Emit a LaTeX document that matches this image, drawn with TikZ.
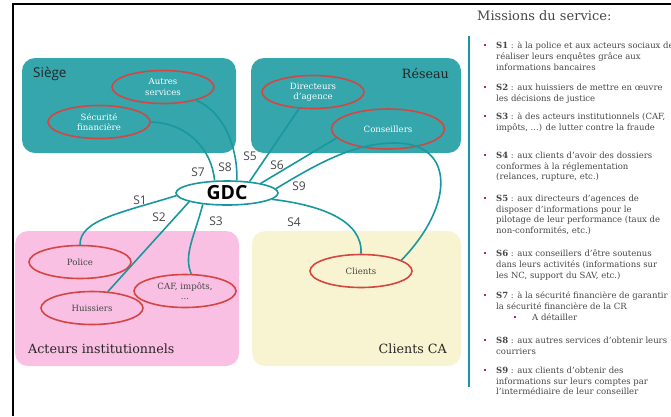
\documentclass[tikz,border=0pt]{standalone}
\usepackage{fontspec}
\setmainfont{DejaVu Serif}
\setsansfont{Open Sans}
\usetikzlibrary{shapes.geometric}

\definecolor{boxteal}{RGB}{52,166,172}
\definecolor{lineteal}{RGB}{24,152,158}
\definecolor{ovalred}{RGB}{212,70,66}
\definecolor{boxpink}{RGB}{250,192,228}
\definecolor{boxcream}{RGB}{248,244,210}
\definecolor{textgray}{RGB}{70,70,70}
\definecolor{bulletpink}{RGB}{192,30,120}

\begin{document}
\begin{tikzpicture}[x=1pt,y=-1pt,
    zone/.style={rounded corners=13pt},
    oval/.style={ellipse,draw=ovalred,line width=1.6pt,minimum width=102pt,minimum height=33pt,
      inner sep=0pt,align=center,font=\fontsize{8.6}{10.2}\selectfont},
    link/.style={draw=lineteal,line width=1.6pt},
    slabel/.style={font=\sffamily\fontsize{12}{14}\selectfont,text=textgray,inner sep=0pt},
    zonelabel/.style={font=\fontsize{12.7}{14}\selectfont,text=black!85,inner sep=0pt},
    mission/.style={anchor=north west,align=left,inner sep=0pt,text=textgray,
      font=\fontsize{8.5}{10.8}\selectfont}]
    \clip (0,0) rectangle (671,416);

    \coordinate (framebl) at (13,416);
    \coordinate (frametl) at (13,4);
    \coordinate (frametr) at (671,4);
    \draw[line width=2pt] (framebl) -- (frametl) -- (frametr);

    \fill[boxteal,zone] (22,58) rectangle (236,153);
    \fill[boxteal,zone] (251,58) rectangle (461,153);
    \fill[boxpink,zone] (15,231) rectangle (239,366);
    \fill[boxcream,zone] (252,231) rectangle (461,366);

    \node[zonelabel,font=\sffamily\fontsize{13.5}{15}\selectfont,anchor=west] (siege) at (33,74) {Siège};
    \node[zonelabel,anchor=east] (reseau) at (449,74) {Réseau};
    \node[zonelabel,anchor=west] (acteurs) at (28,349) {Acteurs institutionnels};
    \node[zonelabel,anchor=east] (clientsca) at (447,349) {Clients CA};

    \node[oval,text=white] (autres) at (163,87) {Autres\\services};
    \node[oval,text=white] (secu) at (99,122) {Sécurité\\financière};
    \node[oval,text=white] (directeurs) at (313,92) {Directeurs\\d’agence};
    \node[oval,text=white,minimum width=113pt,minimum height=40pt] (conseillers) at (388,129) {Conseillers};
    \node[oval,text=textgray] (police) at (80,262) {Police};
    \node[oval,text=textgray] (huissiers) at (92,308) {Huissiers};
    \node[oval,text=textgray] (caf) at (185,291) {CAF, impôts,\\...};
    \node[oval,text=textgray] (clients) at (361,271) {Clients};

    \node[ellipse,draw=lineteal,line width=1.6pt,fill=white,minimum width=102pt,minimum height=24pt,
      inner sep=0pt,font=\sffamily\bfseries\fontsize{19.5}{21}\selectfont] (gdc) at (227,193) {GDC};

    \draw[link] (gdc.183) .. controls (120,213) and (80,220) .. (police.north);
    \draw[link] (gdc.193) -- (huissiers.46);
    \draw[link] (gdc.205) .. controls (195,235) and (183,255) .. (caf.70);
    \draw[link] (gdc.-8) .. controls (320,205) and (363,220) .. (clients.north);
    \draw[link] (directeurs.230) -- (gdc.27);
    \draw[link] (conseillers.190) -- (gdc.16);
    \draw[link] (secu.east) .. controls (188,123) and (212,150) .. (gdc.135);
    \draw[link] (autres.-22) .. controls (225,112) and (238,150) .. (gdc.52);
    \draw[link] (gdc.5) .. controls (320,162) and (355,143) .. (395,143)
      .. controls (455,143) and (455,205) .. (clients.15);

    \node[slabel] (s1) at (140,200) {S1};
    \node[slabel] (s2) at (159,217) {S2};
    \node[slabel] (s3) at (216,221) {S3};
    \node[slabel] (s4) at (294,222) {S4};
    \node[slabel] (s5) at (250,156) {S5};
    \node[slabel] (s6) at (277,165) {S6};
    \node[slabel] (s7) at (198,172) {S7};
    \node[slabel] (s8) at (225,167) {S8};
    \node[slabel] (s9) at (299,186) {S9};

    \node[font=\fontsize{13}{15}\selectfont,text=textgray,anchor=base west,inner sep=0pt] (titre) at (477,20) {Missions du service:};
    \draw[lineteal,line width=2.2pt] (469,36) -- (469,387);
    \foreach \y in {45,87,116,155,198,253,295,340,370}
      \fill[bulletpink] (484,\y-1) rectangle (486.2,\y+1.2);
    \fill[bulletpink] (514,316) rectangle (516.2,318.2);

    \node[mission] (m1) at (496,41.6) {\textbf{S1} : à la police et aux acteurs sociaux de\\réaliser leurs enquêtes grâce aux\\informations bancaires};
    \node[mission] (m2) at (496,83.6) {\textbf{S2} : aux huissiers de mettre en œuvre\\les décisions de justice};
    \node[mission] (m3) at (496,112.6) {\textbf{S3} : à des acteurs institutionnels (CAF,\\impôts, ...) de lutter contre la fraude};
    \node[mission] (m4) at (496,151.6) {\textbf{S4} : aux clients d’avoir des dossiers\\conformes à la réglementation\\(relances, rupture, etc.)};
    \node[mission] (m5) at (496,194.6) {\textbf{S5} : aux directeurs d’agences de\\disposer d’informations pour le\\pilotage de leur performance (taux de\\non-conformités, etc.)};
    \node[mission] (m6) at (496,249.6) {\textbf{S6} : aux conseillers d’être soutenus\\dans leurs activités (informations sur\\les NC, support du SAV, etc.)};
    \node[mission] (m7) at (496,291.6) {\textbf{S7} : à la sécurité financière de garantir\\la sécurité financière de la CR};
    \node[mission,anchor=base west] (m7a) at (532,320) {A détailler};
    \node[mission] (m8) at (496,336.6) {\textbf{S8} : aux autres services d’obtenir leurs\\courriers};
    \node[mission] (m9) at (496,366.6) {\textbf{S9} : aux clients d’obtenir des\\informations sur leurs comptes par\\l’intermédiaire de leur conseiller};
\end{tikzpicture}
\end{document}
